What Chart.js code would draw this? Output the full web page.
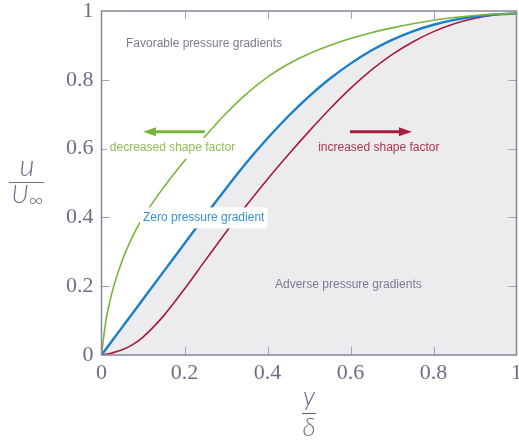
<!DOCTYPE html>
<html lang="en">
<head>
<meta charset="UTF-8">
<title>Boundary layer velocity profiles</title>
<script src="https://cdn.jsdelivr.net/npm/chart.js"></script>
<style>
  html, body { margin: 0; padding: 0; background: #fff; }
  #wrap { width: 519px; height: 440px; position: relative; }
</style>
</head>
<body>
<div id="wrap"><canvas id="profileChart"></canvas></div>
<script>
// y/delta positions shared by the three profiles
const yOverDelta = [0, 0.01, 0.025, 0.05, 0.075, 0.1, 0.15, 0.2, 0.25, 0.3, 0.35, 0.4,
                    0.45, 0.5, 0.55, 0.6, 0.65, 0.7, 0.75, 0.8, 0.85, 0.9, 0.95, 1];
// u/U_inf for each profile
const favorable = [0, 0.095, 0.18, 0.275, 0.345, 0.40, 0.488, 0.565, 0.636, 0.702, 0.76, 0.808,
                   0.846, 0.876, 0.90, 0.92, 0.937, 0.951, 0.963, 0.973, 0.981, 0.987, 0.991, 0.993];
const zeroGradient = [0, 0.0162, 0.0405, 0.081, 0.1215, 0.162, 0.243, 0.324, 0.405, 0.484, 0.56, 0.63,
                      0.694, 0.752, 0.803, 0.847, 0.885, 0.916, 0.941, 0.96, 0.974, 0.984, 0.99, 0.993];
const adverse = [0, 0.002, 0.006, 0.015, 0.03, 0.052, 0.1145, 0.192, 0.275, 0.357, 0.436, 0.511,
                 0.582, 0.65, 0.715, 0.775, 0.828, 0.873, 0.91, 0.94, 0.963, 0.979, 0.989, 0.993];
const tickValues = [0, 0.2, 0.4, 0.6, 0.8, 1];

const GREEN = '#79b43b', BLUE = '#1b7ec8', RED = '#a51c3b';
const INK = '#6d6d89', FRAME = '#85859b';

// annotations placed in data coordinates
const notes = [
  { text: 'Favorable pressure gradients', x: 0.059, y: 0.904, color: '#7b7b92' },
  { text: 'decreased shape factor', x: 0.02, y: 0.602, color: '#8dc057', bg: true },
  { text: 'increased shape factor', x: 0.522, y: 0.602, color: '#b03450' },
  { text: 'Zero pressure gradient', x: 0.1, y: 0.40, color: '#3592d6', bg: true },
  { text: 'Adverse pressure gradients', x: 0.418, y: 0.203, color: '#7b7b92' }
];
const arrows = [
  { from: 0.249, to: 0.1, y: 0.649, color: GREEN },
  { from: 0.599, to: 0.748, y: 0.649, color: RED }
];

function pts(arr) {
  return yOverDelta.map((x, i) => ({ x: x, y: arr[i] }));
}

function fmt(v) {
  return (v === 0 || v === 1) ? String(v) : v.toFixed(1);
}

const decorations = {
  id: 'decorations',
  afterDatasetsDraw(chart) {
    const ctx = chart.ctx, a = chart.chartArea;
    const sx = chart.scales.x, sy = chart.scales.y;
    ctx.save();
    // inner tick marks on all four sides
    ctx.strokeStyle = '#a3a3b5';
    ctx.lineWidth = 1;
    tickValues.slice(1, -1).forEach(v => {
      const px = Math.round(sx.getPixelForValue(v)) + 0.5;
      const py = Math.round(sy.getPixelForValue(v)) + 0.5;
      ctx.beginPath();
      ctx.moveTo(px, a.bottom); ctx.lineTo(px, a.bottom - 8);
      ctx.moveTo(px, a.top); ctx.lineTo(px, a.top + 8);
      ctx.moveTo(a.left, py); ctx.lineTo(a.left + 8, py);
      ctx.moveTo(a.right, py); ctx.lineTo(a.right - 8, py);
      ctx.stroke();
    });
    // frame
    ctx.strokeStyle = FRAME;
    ctx.lineWidth = 1.5;
    ctx.strokeRect(a.left, a.top, a.right - a.left, a.bottom - a.top);

    // text notes
    ctx.font = '12px "Liberation Sans", Arial, sans-serif';
    ctx.textBaseline = 'middle';
    ctx.textAlign = 'left';
    notes.forEach(n => {
      const px = sx.getPixelForValue(n.x), py = sy.getPixelForValue(n.y);
      if (n.bg) {
        const w = ctx.measureText(n.text).width;
        ctx.fillStyle = '#fff';
        ctx.fillRect(px - 3, py - 10, w + 6, 21);
      }
      ctx.fillStyle = n.color;
      ctx.fillText(n.text, px, py);
    });

    // arrows
    arrows.forEach(ar => {
      const x0 = sx.getPixelForValue(ar.from), x1 = sx.getPixelForValue(ar.to);
      const py = sy.getPixelForValue(ar.y);
      const dir = Math.sign(x1 - x0);
      ctx.strokeStyle = ar.color;
      ctx.fillStyle = ar.color;
      ctx.lineWidth = 3;
      ctx.beginPath();
      ctx.moveTo(x0, py); ctx.lineTo(x1 - dir * 10, py);
      ctx.stroke();
      ctx.beginPath();
      ctx.moveTo(x1, py);
      ctx.lineTo(x1 - dir * 13, py - 4.5);
      ctx.lineTo(x1 - dir * 13, py + 4.5);
      ctx.closePath();
      ctx.fill();
    });
    ctx.restore();
  },
  afterDraw(chart) {
    // axis titles drawn as stacked fractions
    const ctx = chart.ctx, a = chart.chartArea;
    ctx.save();
    ctx.fillStyle = INK;
    ctx.strokeStyle = INK;
    ctx.lineWidth = 1.2;
    ctx.textAlign = 'center';
    ctx.textBaseline = 'alphabetic';
    // y title: u / U_inf
    ctx.font = 'italic 300 29px Lato, "Open Sans", sans-serif';
    ctx.fillText('u', 27, 176);
    ctx.beginPath(); ctx.moveTo(9, 182.5); ctx.lineTo(44, 182.5); ctx.stroke();
    ctx.font = 'italic 300 25px Lato, "Open Sans", sans-serif';
    ctx.fillText('U', 20, 203);
    ctx.font = '300 20px Lato, "Open Sans", sans-serif';
    ctx.fillText('\u221e', 36, 207);
    // x title: y / delta
    const cx = (a.left + a.right) / 2;
    ctx.font = 'italic 300 26px Lato, "Open Sans", sans-serif';
    ctx.fillText('y', cx, 405);
    ctx.beginPath(); ctx.moveTo(cx - 7, 413.5); ctx.lineTo(cx + 7, 413.5); ctx.stroke();
    ctx.fillText('\u03b4', cx, 436);
    ctx.restore();
  }
};

new Chart(document.getElementById('profileChart'), {
  type: 'line',
  data: {
    datasets: [
      { label: 'Favorable', data: pts(favorable), borderColor: GREEN, borderWidth: 1.6, fill: false },
      { label: 'Zero', data: pts(zeroGradient), borderColor: BLUE, borderWidth: 2.4,
        fill: 'origin', backgroundColor: '#ececee' },
      { label: 'Adverse', data: pts(adverse), borderColor: RED, borderWidth: 1.6, fill: false }
    ]
  },
  options: {
    responsive: true,
    maintainAspectRatio: false,
    animation: false,
    events: [],
    elements: {
      point: { radius: 0 },
      line: { cubicInterpolationMode: 'monotone' }
    },
    layout: { padding: { top: 11, right: 2.5, left: 0, bottom: 0 } },
    plugins: {
      legend: { display: false },
      tooltip: { enabled: false },
      filler: { drawTime: 'beforeDatasetsDraw' }
    },
    scales: {
      x: {
        type: 'linear', min: 0, max: 1,
        afterBuildTicks: s => { s.ticks = tickValues.map(v => ({ value: v })); },
        grid: { display: false, drawTicks: false },
        border: { display: false },
        ticks: { color: INK, padding: 5, maxRotation: 0, callback: fmt,
                 font: { family: '"Liberation Serif", serif', size: 22 } },
        afterFit: s => { s.height = 85; s.paddingLeft = 0; s.paddingRight = 0; }
      },
      y: {
        min: 0, max: 1,
        afterBuildTicks: s => { s.ticks = tickValues.map(v => ({ value: v })); },
        grid: { display: false, drawTicks: false },
        border: { display: false },
        ticks: { color: INK, padding: 8, callback: fmt,
                 font: { family: '"Liberation Serif", serif', size: 22 } },
        afterFit: s => { s.width = 101.5; s.paddingTop = 0; s.paddingBottom = 0; }
      }
    }
  },
  plugins: [decorations]
});
</script>
</body>
</html>
